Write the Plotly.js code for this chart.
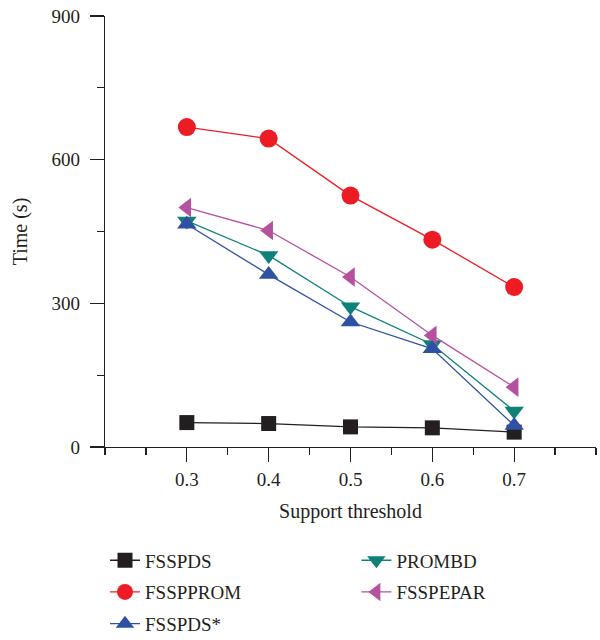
<!DOCTYPE html>
<html>
<head>
<meta charset="utf-8">
<script src="https://cdn.plot.ly/plotly-3.0.1.min.js"></script>
<style>html,body{margin:0;padding:0;background:#fff}#chart{width:600px;height:640px}</style>
</head>
<body>
<div id="chart"></div>
<script>
const supportThreshold = [0.3, 0.4, 0.5, 0.6, 0.7];
const fsspds     = [51, 49, 42, 40, 31];
const fssprom    = [668, 644, 525, 433, 334];
const fsspdsStar = [465, 360, 261, 205, 45];
const prombd     = [472, 400, 293, 214, 75];
const fsspepar   = [500, 452, 355, 233, 125];

const seriesNames = ['FSSPDS', 'FSSPPROM', 'FSSPDS*', 'PROMBD', 'FSSPEPAR'];
const xTickVals = [0.3, 0.4, 0.5, 0.6, 0.7];
const xTickText = ['0.3', '0.4', '0.5', '0.6', '0.7'];
const yTickVals = [0, 300, 600, 900];
const yTickText = ['0', '300', '600', '900'];

const FONT = 'Liberation Serif, Times New Roman, serif';
const TXT = '#231F20';

function mk(name, y, color, symbol, size, legend) {
  return {
    x: supportThreshold, y: y, name: name, type: 'scatter', mode: 'lines+markers',
    line: {color: color, width: 1.3},
    marker: {color: color, symbol: symbol, size: size},
    legend: legend, legendgroup: name, cliponaxis: false
  };
}

const traces = [
  mk(seriesNames[0], fsspds, '#231F20', 'square', 15, 'legend'),
  mk(seriesNames[1], fssprom, '#ED1C24', 'circle', 18, 'legend'),
  mk(seriesNames[3], prombd, '#0E8279', 'triangle-down', 17, 'legend2'),
  mk(seriesNames[4], fsspepar, '#B5519F', 'triangle-left', 17, 'legend2'),
  mk(seriesNames[2], fsspdsStar, '#2F51A3', 'triangle-up', 17, 'legend')
];

const legendCommon = {
  font: {family: FONT, size: 19, color: TXT},
  bgcolor: 'rgba(0,0,0,0)', borderwidth: 0,
  traceorder: 'grouped', tracegroupgap: 4,
  xanchor: 'left', yanchor: 'top', y: -0.219
};

const layout = {
  width: 600, height: 640,
  margin: {l: 105, r: 4, t: 16, b: 193, autoexpand: false},
  paper_bgcolor: '#fff', plot_bgcolor: '#fff',
  font: {family: FONT, color: TXT, size: 19},
  showlegend: true,
  legend: Object.assign({}, legendCommon, {x: 0.0}),
  legend2: Object.assign({}, legendCommon, {x: 0.512}),
  xaxis: {
    range: [0.2, 0.8], showgrid: false, zeroline: false,
    showline: true, linecolor: TXT, linewidth: 1.3,
    tickmode: 'array', tickvals: xTickVals, ticktext: xTickText,
    ticks: 'outside', ticklen: 14, tickwidth: 1.3, tickcolor: TXT,
    ticklabelstandoff: 1,
    minor: {dtick: 0.05, tick0: 0.2, ticks: 'outside', ticklen: 7, tickwidth: 1.3, tickcolor: TXT, showgrid: false},
    tickfont: {family: FONT, size: 19, color: TXT},
    title: {text: 'Support threshold', font: {family: FONT, size: 20, color: TXT}, standoff: 15}
  },
  yaxis: {
    range: [0, 900], showgrid: false, zeroline: false,
    showline: true, linecolor: TXT, linewidth: 1.3,
    tickmode: 'array', tickvals: yTickVals, ticktext: yTickText,
    ticks: 'outside', ticklen: 14, tickwidth: 1.3, tickcolor: TXT,
    ticklabelstandoff: 6,
    minor: {dtick: 150, tick0: 0, ticks: 'outside', ticklen: 7, tickwidth: 1.3, tickcolor: TXT, showgrid: false},
    tickfont: {family: FONT, size: 19, color: TXT},
    title: {text: 'Time (s)', font: {family: FONT, size: 20, color: TXT}, standoff: 18}
  }
};

Plotly.newPlot('chart', traces, layout, {displayModeBar: false, staticPlot: true});
</script>
</body>
</html>
